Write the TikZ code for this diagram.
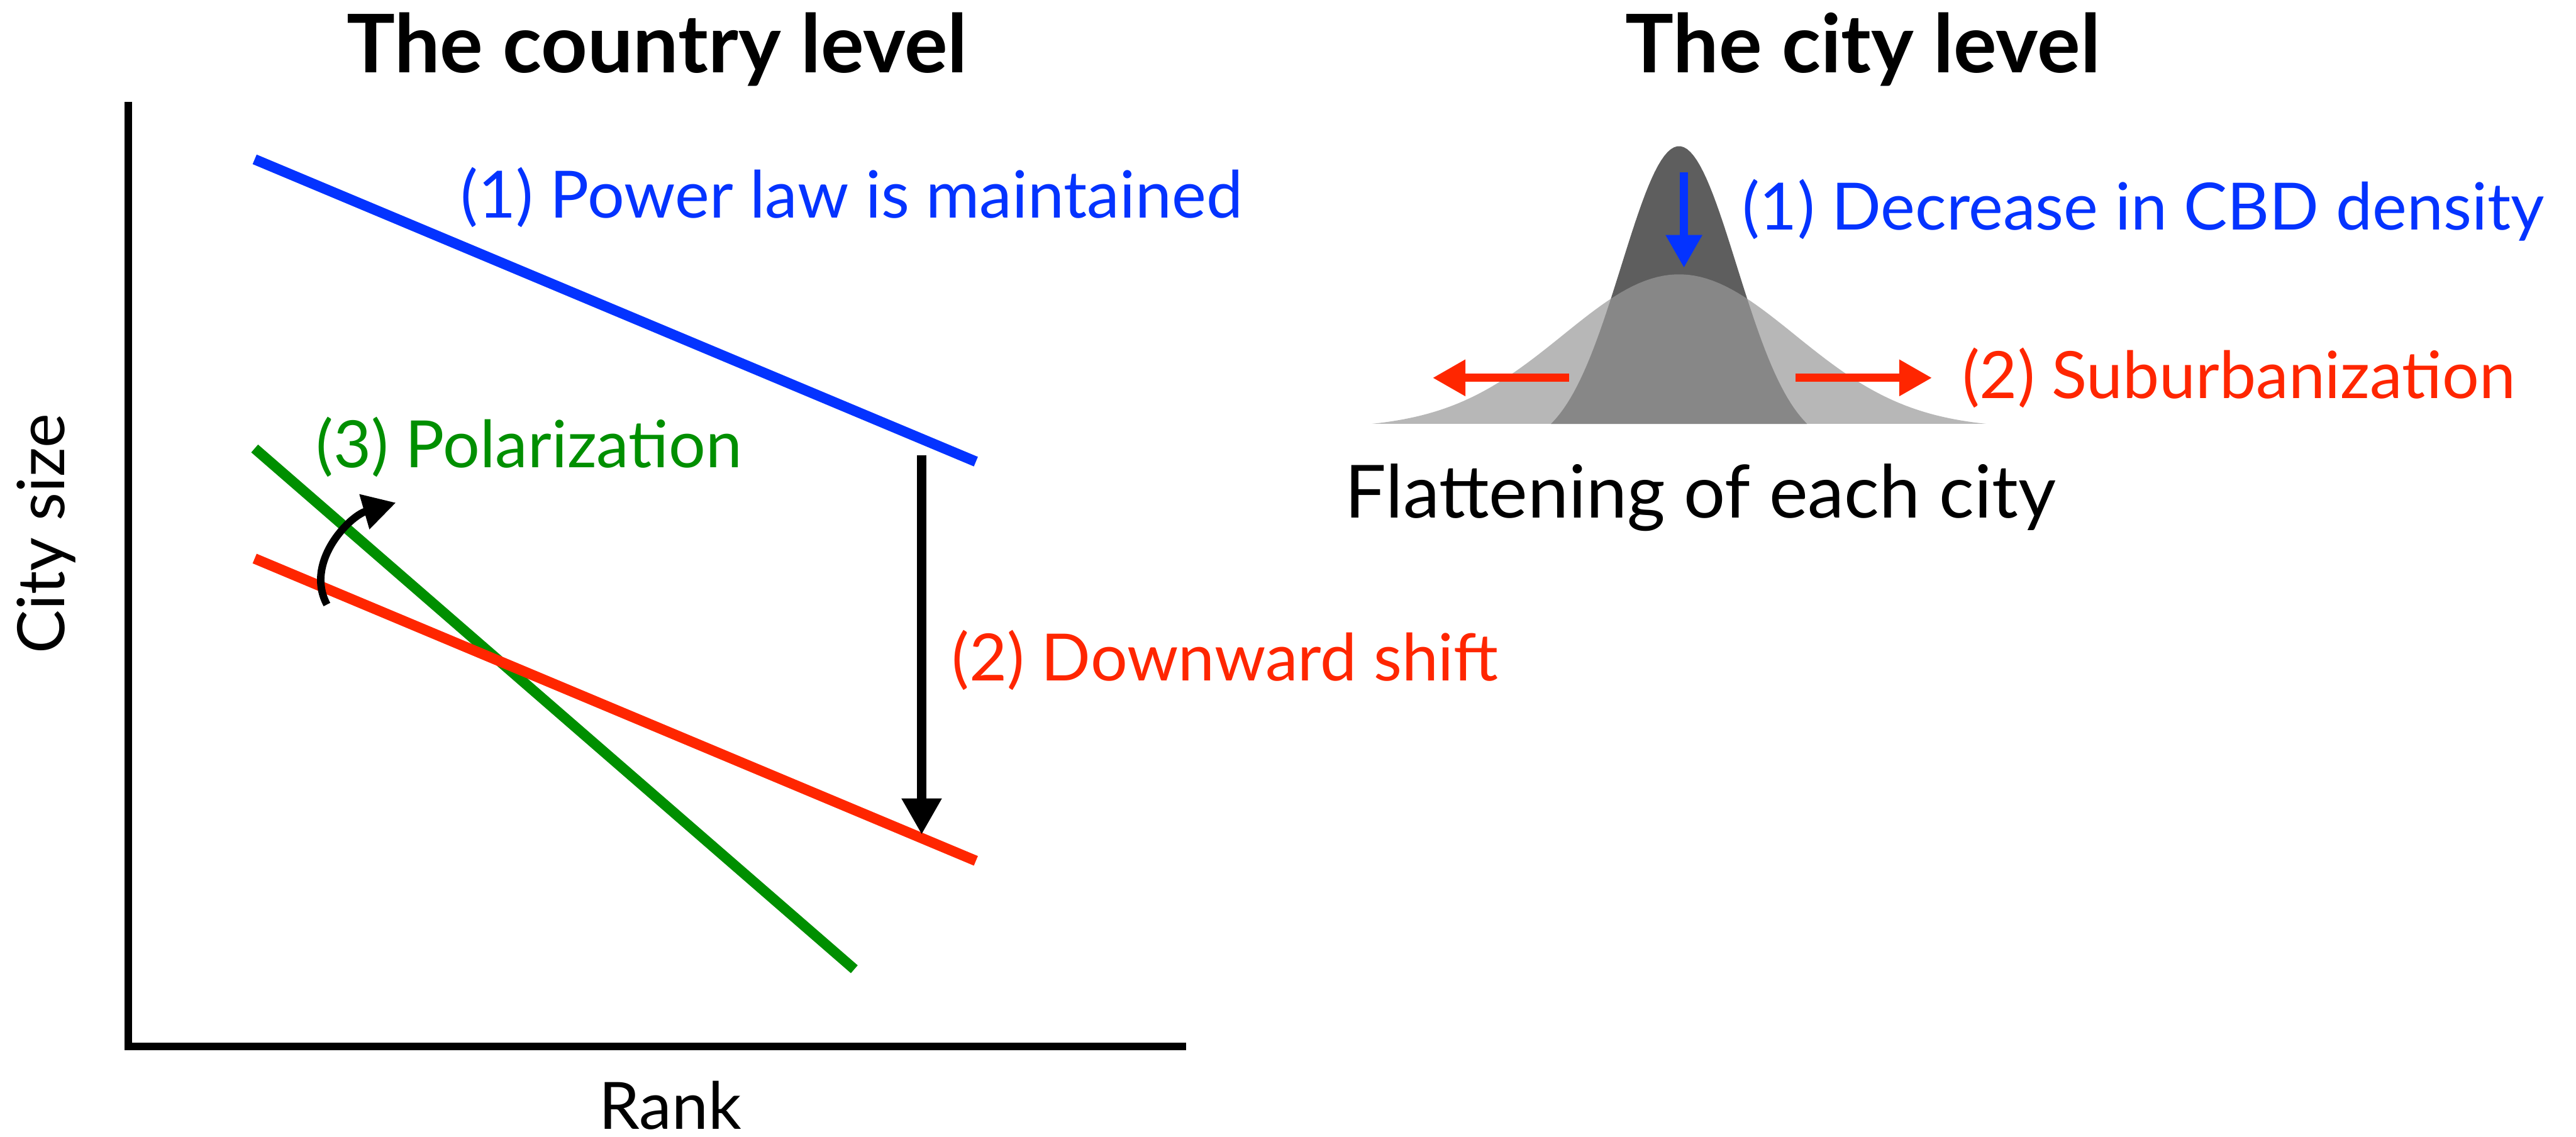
\documentclass[tikz,border=0pt]{standalone}
\usepackage{fontspec}
\setmainfont{Lato}
\usepackage{xcolor}
\usetikzlibrary{arrows.meta}
\definecolor{lawblue}{RGB}{4,51,255}
\definecolor{shiftred}{RGB}{255,38,0}
\definecolor{polgreen}{RGB}{0,143,0}

\begin{document}
\begin{tikzpicture}[->,>={Triangle[length=0.2cm,width=0.21cm]}, line width=1.4pt]
      \tikzstyle{title}=[font=\fontsize{14}{17}\selectfont\bfseries]
      \tikzstyle{txt}=[font=\fontsize{11.3}{13}\selectfont, inner sep=0pt]
      \tikzstyle{axis}=[-, line width=1.35pt]
      \tikzstyle{rankline}=[-, line width=1.8pt]
      \tikzstyle{darkhill}=[fill=black!63]
      \tikzstyle{lighthill}=[fill=black!40, fill opacity=0.71]

      \useasboundingbox (0,0) rectangle (15.68,6.92);

      % Titles
      \node[title] (T-country) at (4.00,6.62) {The country level};
      \node[title] (T-city) at (11.34,6.62) {The city level};

      % Axes
      \coordinate (A-top) at (0.78,6.30);
      \coordinate (A-0) at (0.78,0.55);
      \coordinate (A-end) at (7.22,0.55);
      \draw[axis] (A-top) -- (A-0) -- (A-end);
      \node[txt, rotate=90] (L-y) at (0.28,3.67) {City size};
      \node[txt] (L-x) at (4.08,0.19) {Rank};

      % Rank-size lines
      \coordinate (B-1) at (1.55,5.95);
      \coordinate (B-2) at (5.94,4.11);
      \coordinate (R-1) at (1.55,3.52);
      \coordinate (R-2) at (5.94,1.68);
      \coordinate (G-1) at (1.55,4.19);
      \coordinate (G-2) at (5.20,1.02);
      \draw[rankline, lawblue] (B-1) -- (B-2);
      \draw[rankline, polgreen] (G-1) -- (G-2);
      \draw[rankline, shiftred] (R-1) -- (R-2);

      % Downward shift
      \coordinate (S-1) at (5.61,4.15);
      \coordinate (S-2) at (5.61,1.84);
      \draw[line width=1.6pt, >={Triangle[length=0.22cm,width=0.23cm]}] (S-1) -- (S-2);

      % Rotation
      \coordinate (P-1) at (1.99,3.24);
      \coordinate (P-2) at (2.41,3.86);
      \draw[line width=1.3pt] (P-1) to[out=118,in=196] (P-2);

      % Labels, country level
      \node[txt, text=lawblue, anchor=west] (L-1) at (2.78,5.72) {(1) Power law is maintained};
      \node[txt, text=shiftred, anchor=west] (L-2) at (5.77,2.90) {(2) Downward shift};
      \node[txt, text=polgreen, anchor=west] (L-3) at (1.90,4.20) {(3) Polarization};

      % City level: density before and after
      \fill[darkhill] plot[domain=-0.78:0.78, samples=80]
        ({10.22+\x}, {4.34+1.69*(exp(-(\x)*(\x)/0.2464)-0.085)/0.915}) -- cycle;
      \fill[lighthill] plot[domain=-1.87:1.87, samples=100]
        ({10.22+\x}, {4.34+0.91*(exp(-(\x)*(\x)/0.997)-0.03)/0.97}) -- cycle;

      % City level arrows
      \coordinate (C-1) at (10.25,5.87);
      \coordinate (C-2) at (10.25,5.29);
      \coordinate (W-1) at (9.55,4.62);
      \coordinate (W-2) at (8.72,4.62);
      \coordinate (E-1) at (10.93,4.62);
      \coordinate (E-2) at (11.76,4.62);
      \draw[lawblue] (C-1) -- (C-2);
      \draw[shiftred] (W-1) -- (W-2);
      \draw[shiftred] (E-1) -- (E-2);

      % Labels, city level
      \node[txt, text=lawblue, anchor=west] (D-1) at (10.58,5.64) {(1) Decrease in CBD density};
      \node[txt, text=shiftred, anchor=west] (D-2) at (11.92,4.62) {(2) Suburbanization};
      \node[txt, font=\fontsize{12.7}{15}\selectfont] (D-3) at (10.35,3.89) {Flattening of each city};
\end{tikzpicture}
\end{document}
